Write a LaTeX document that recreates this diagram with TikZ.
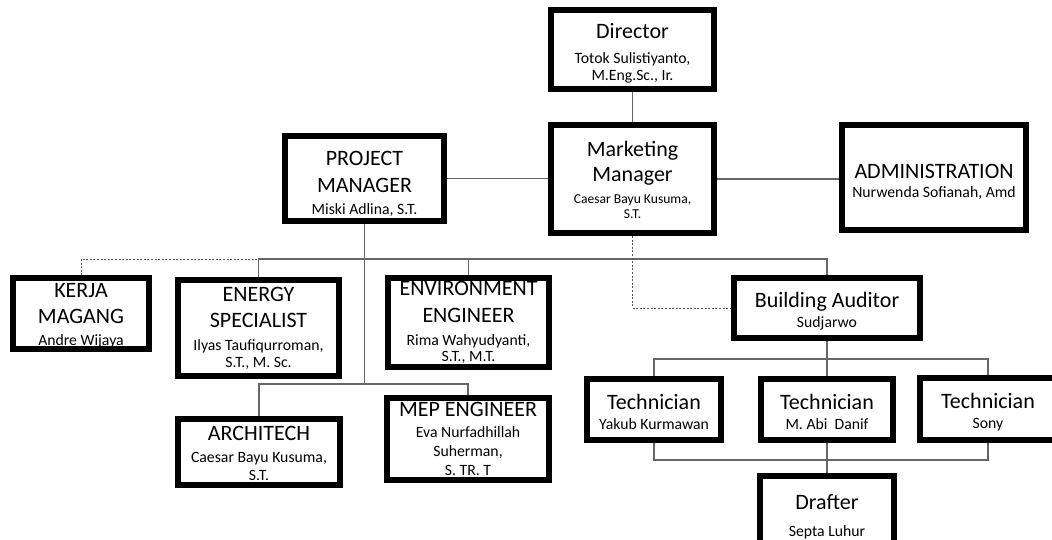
\documentclass[tikz,border=0pt]{standalone}
\usepackage{fontspec}
\setmainfont{Carlito}
\newcommand{\jab}{\fontsize{16.5}{20}\selectfont}
\newcommand{\nama}{\fontsize{11.8}{12.5}\selectfont}
\newcommand{\atas}[1]{\rule{0pt}{#1pt}}

\begin{document}
\begin{tikzpicture}[x=0.75pt,y=-0.75pt,font=\jab]
    \tikzstyle{box}=[rectangle,draw,fill=white,line width=4.5pt,align=center,inner sep=0pt]
    \tikzstyle{link}=[draw=black!60,line width=1pt]
    \tikzstyle{dots}=[draw=black!65,line width=0.75pt,dash pattern=on 1.5pt off 1.2pt]
    \useasboundingbox (0,0) rectangle (1052,539);
    % top row
    \node [box,minimum width=122.3pt,minimum height=59.3pt] (dir) at (632.5,49.5) {\atas{17.3}Director\\[-1.25pt]{\nama Totok Sulistiyanto,}\\[-7.5pt]{\nama M.Eng.Sc., Ir.}};
    \node [box,minimum width=122.3pt,minimum height=81pt] (mm) at (632.5,179) {\atas{12.8}Marketing\\[-1.25pt]Manager\\[-3.5pt]{\fontsize{10.2}{12}\selectfont Caesar Bayu Kusuma,}\\[-8.75pt]{\fontsize{10.2}{12}\selectfont S.T.}};
    \node [box,minimum width=119.3pt,minimum height=63.8pt] (pm) at (364.5,178.5) {\atas{18.4}PROJECT\\MANAGER\\[-3.5pt]{\nama Miski Adlina, S.T.}};
    \node [box,minimum width=138pt,minimum height=78.8pt] (adm) at (934,177.5) {\atas{16.9}ADMINISTRATION\\[-5.75pt]{\nama Nurwenda Sofianah, Amd}};
    % staff
    \node [box,minimum width=102pt,minimum height=51.8pt] (kerja) at (81,313.5) {\atas{14.6}KERJA\\[-0.5pt]MAGANG\\[-3.5pt]{\nama Andre Wijaya}};
    \node [box,minimum width=120.8pt,minimum height=72pt] (energy) at (258.5,328) {ENERGY\\[-0.5pt]SPECIALIST\\[-2.75pt]{\nama Ilyas Taufiqurroman,}\\[-7.25pt]{\nama S.T., M. Sc.}};
    \node [box,minimum width=120.8pt,minimum height=66.8pt] (env) at (468.5,322.5) {ENVIRONMENT\\ENGINEER\\[-2.75pt]{\nama Rima Wahyudyanti,}\\[-7.75pt]{\nama S.T., M.T.}};
    \node [box,minimum width=139.5pt,minimum height=45pt] (ba) at (827,308) {\atas{16.1}Building Auditor\\[-5pt]{\nama Sudjarwo}};
    \node [box,minimum width=121.5pt,minimum height=49.5pt] (arch) at (259,452) {\atas{13}ARCHITECH\\[-3.5pt]{\nama Caesar Bayu Kusuma,}\\[-6.5pt]{\nama S.T.}};
    \node [box,minimum width=121.5pt,minimum height=61.5pt] (mep) at (468,439) {MEP ENGINEER\\[-4.25pt]{\nama Eva Nurfadhillah}\\[-5.75pt]{\nama Suherman,}\\[-5.75pt]{\nama S. TR. T}};
    % auditor team
    \node [box,minimum width=100.5pt,minimum height=45.8pt] (tech1) at (654,409.5) {\atas{15.6}Technician\\[-5pt]{\nama Yakub Kurmawan}};
    \node [box,minimum width=98.3pt,minimum height=45.8pt] (tech2) at (827,409.5) {\atas{15.6}Technician\\[-5pt]{\nama M. Abi\ \ Danif}};
    \node [box,minimum width=102pt,minimum height=46.5pt] (tech3) at (988,409) {\atas{15.6}Technician\\[-5pt]{\nama Sony}};
    \node [box,minimum width=100.5pt,minimum height=53.3pt] (drafter) at (827,511.5) {\atas{18.8}Drafter\\[0pt]{\nama Septa Luhur}};
    % bus levels
    \coordinate (bus1) at (0,259);
    \coordinate (bus2) at (0,384);
    \coordinate (tbus) at (0,359);
    \coordinate (bbus) at (0,460);
    % connectors
    \draw [link] (dir) -- (mm);
    \draw [link] (pm.east) -- (pm.east -| mm.west);
    \draw [link] (mm.east) -- (mm.east -| adm.west);
    \draw [link] (pm.south) -- (pm.south |- bus2);
    \draw [link] (energy.north) -- (energy.north |- bus1) -| (ba.north);
    \draw [link] (env.north) -- (env.north |- bus1);
    \draw [dots] (kerja.north) |- (energy.north |- bus1);
    \draw [dots] (mm.south) |- (ba.west);
    \draw [link] (arch.north) |- (mep.north |- bus2) -- (mep.north);
    \draw [link] (ba.south) -- (ba.south |- tbus);
    \draw [link] (tech1.north) |- (tech3.north |- tbus) -- (tech3.north);
    \draw [link] (tech2.north) -- (tech2.north |- tbus);
    \draw [link] (tech1.south) |- (tech3.south |- bbus) -- (tech3.south);
    \draw [link] (tech2.south) -- (drafter.north);
\end{tikzpicture}
\end{document}
